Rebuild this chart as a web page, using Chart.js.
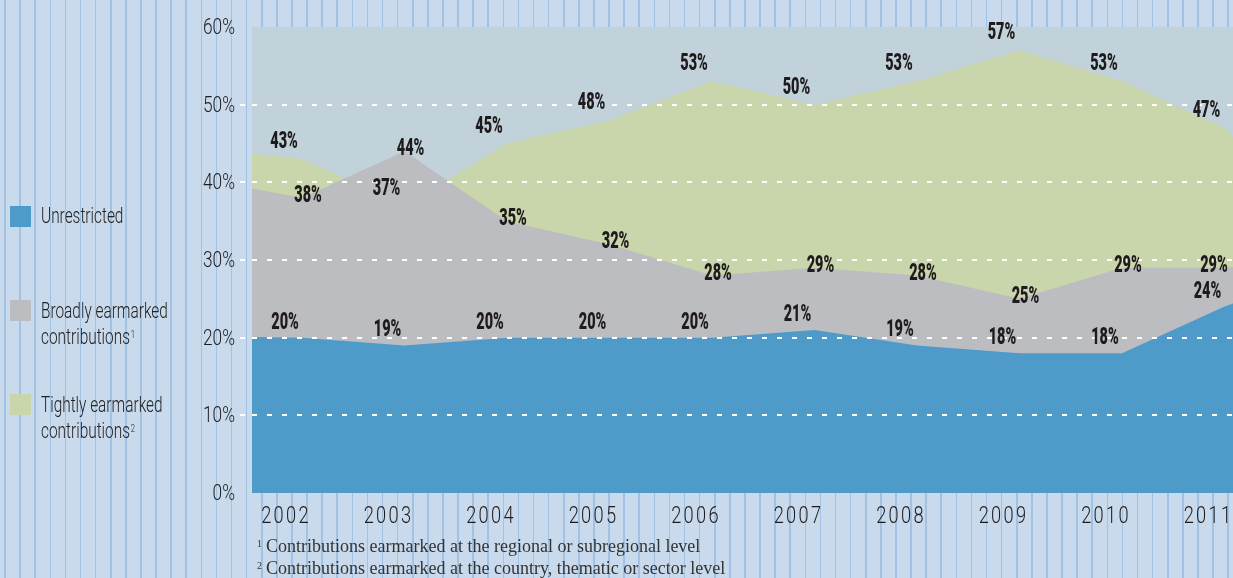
<!DOCTYPE html>
<html><head><meta charset="utf-8">
<script src="https://cdn.jsdelivr.net/npm/chart.js@4.4.1/dist/chart.umd.min.js"></script>
<style>
html,body{margin:0;padding:0;width:1233px;height:578px;overflow:hidden;}
body{background-color:#c8daec;background-image:repeating-linear-gradient(90deg,transparent 0px,transparent 4.2px,#a2c2e4 4.2px,#a2c2e4 5.8px,transparent 5.8px,transparent 15.1px);position:relative;}
#c{position:absolute;left:0;top:0;}
.sw{position:absolute;left:10px;width:21px;height:21px;}
.lt{position:absolute;left:41px;font-family:Roboto,sans-serif;font-weight:300;font-size:22px;line-height:26px;color:#222;white-space:nowrap;transform:scaleX(0.7);transform-origin:left center;}
.lt sup{font-size:11px;vertical-align:top;position:relative;top:-2px;margin-left:1px;}
.fn{position:absolute;left:257px;font-family:"Liberation Serif",serif;font-size:18px;color:#333;white-space:nowrap;}
.fn sup{font-size:10px;vertical-align:top;position:relative;top:2px;margin-right:4px;}
</style></head>
<body>
<canvas id="c" width="1233" height="578"></canvas>
<div class="sw" style="top:206px;background:#4e9bca"></div>
<div class="lt" style="top:203px">Unrestricted</div>
<div class="sw" style="top:300px;background:#bcbdc1"></div>
<div class="lt" style="top:298px">Broadly earmarked<br>contributions<sup>1</sup></div>
<div class="sw" style="top:394px;background:#c9d5aa"></div>
<div class="lt" style="top:392px">Tightly earmarked<br>contributions<sup>2</sup></div>
<div class="fn" style="top:536px"><sup>1</sup>Contributions earmarked at the regional or subregional level</div>
<div class="fn" style="top:558px"><sup>2</sup>Contributions earmarked at the country, thematic or sector level</div>
<script>
const years = [2002, 2003, 2004, 2005, 2006, 2007, 2008, 2009, 2010, 2011];
const unrestricted = [20, 19, 20, 20, 20, 21, 19, 18, 18, 24];
const broadly = [38, 44, 35, 32, 28, 29, 28, 25, 29, 29];
const tightly = [43, 37, 45, 48, 53, 50, 53, 57, 53, 47];
// values where the areas meet the left and right edges of the plot
const edgeX = [2001.512, 2011.083];
const unrestrictedEdges = [20.1, 24.4];
const broadlyEdges = [39.2, 29.1];
const tightlyEdges = [43.7, 45.8];
const yTicks = [0, 10, 20, 30, 40, 50, 60];

function pts(vals, edges) {
  const a = [{x: edgeX[0], y: edges[0]}];
  years.forEach((yr, i) => a.push({x: yr, y: vals[i]}));
  a.push({x: edgeX[1], y: edges[1]});
  return a;
}

function drawText(ctx, txt, x, y, sx, align) {
  ctx.save();
  ctx.translate(x, y);
  ctx.scale(sx, 1);
  ctx.textAlign = align;
  ctx.fillText(txt, 0, 0);
  ctx.restore();
}

const bgPlugin = {
  id: 'plotbg',
  beforeDraw(chart) {
    const {ctx, chartArea: a} = chart;
    ctx.save();
    ctx.fillStyle = '#c1d2db';
    ctx.fillRect(a.left, a.top, a.right - a.left, a.bottom - a.top);
    ctx.restore();
  },
  afterDraw(chart) {
    const ctx = chart.ctx, xs = chart.scales.x, ys = chart.scales.y;
    const right = chart.chartArea.right;
    ctx.save();
    ctx.fillStyle = '#1f1b1c';
    ctx.textBaseline = 'alphabetic';
    // y tick labels
    ctx.font = '300 22.5px Roboto, sans-serif';
    ys.ticks.forEach(t => {
      drawText(ctx, t.label, 235, ys.getPixelForValue(t.value) + 7, 0.77, 'right');
    });
    // x tick labels
    ctx.font = '300 24px Roboto, sans-serif';
    ctx.letterSpacing = '3px';
    xs.ticks.forEach(t => {
      drawText(ctx, t.label, xs.getPixelForValue(t.value) - 16, 523, 0.76, 'center');
    });
    ctx.letterSpacing = '0px';
    // value labels
    const series = [
      {vals: tightly, dx: -18, dy: -19},
      {vals: broadly, dx: 6, dy: -4},
      {vals: unrestricted, dx: -17, dy: -17}
    ];
    ctx.font = '900 23px Roboto, sans-serif';
    series.forEach(s => s.vals.forEach((v, i) => {
      const x = Math.min(xs.getPixelForValue(years[i]) + s.dx, right - 19);
      const y = ys.getPixelForValue(v) + s.dy + 8;
      drawText(ctx, v + '%', x, y, 0.63, 'center');
    }));
    ctx.restore();
  }
};

const hidden = 'rgba(0,0,0,0)';

new Chart(document.getElementById('c'), {
  type: 'line',
  data: {
    datasets: [
      {label: 'Unrestricted', data: pts(unrestricted, unrestrictedEdges), backgroundColor: '#4e9bca', fill: 'origin', order: 0},
      {label: 'Broadly earmarked contributions', data: pts(broadly, broadlyEdges), backgroundColor: '#bcbdc1', fill: 'origin', order: 1},
      {label: 'Tightly earmarked contributions', data: pts(tightly, tightlyEdges), backgroundColor: '#c9d5aa', fill: 'origin', order: 2}
    ]
  },
  options: {
    responsive: false,
    animation: false,
    elements: {line: {borderWidth: 0, tension: 0}, point: {radius: 0}},
    plugins: {legend: {display: false}, tooltip: {enabled: false}},
    layout: {padding: {top: 27, left: 0, right: 0, bottom: 0}},
    scales: {
      x: {
        type: 'linear', min: edgeX[0], max: edgeX[1],
        afterBuildTicks: s => { s.ticks = years.map(v => ({value: v})); },
        afterFit: s => { s.height = 85; s.paddingLeft = 0; s.paddingRight = 0; },
        grid: {display: false, drawTicks: false},
        border: {display: false},
        ticks: {
          padding: 8, maxRotation: 0, autoSkip: false,
          color: hidden,
          font: {size: 20},
          callback: v => String(v)
        }
      },
      y: {
        min: 0, max: 60,
        afterBuildTicks: s => { s.ticks = yTicks.map(v => ({value: v})); },
        afterFit: s => { s.width = 252; s.paddingTop = 0; s.paddingBottom = 0; },
        grid: {
          z: 1, lineWidth: 2, tickLength: 12, tickWidth: 2,
          tickBorderDash: [5, 10],
          color: c => (c.tick && (c.tick.value === 0 || c.tick.value === 60)) ? hidden : '#ffffff',
          tickColor: c => (c.tick && (c.tick.value === 0 || c.tick.value === 60)) ? hidden : '#ffffff'
        },
        border: {display: false, dash: [5, 10]},
        ticks: {
          padding: 5, color: hidden,
          font: {size: 20},
          callback: v => v + '%'
        }
      }
    }
  },
  plugins: [bgPlugin]
});
</script>
</body></html>
